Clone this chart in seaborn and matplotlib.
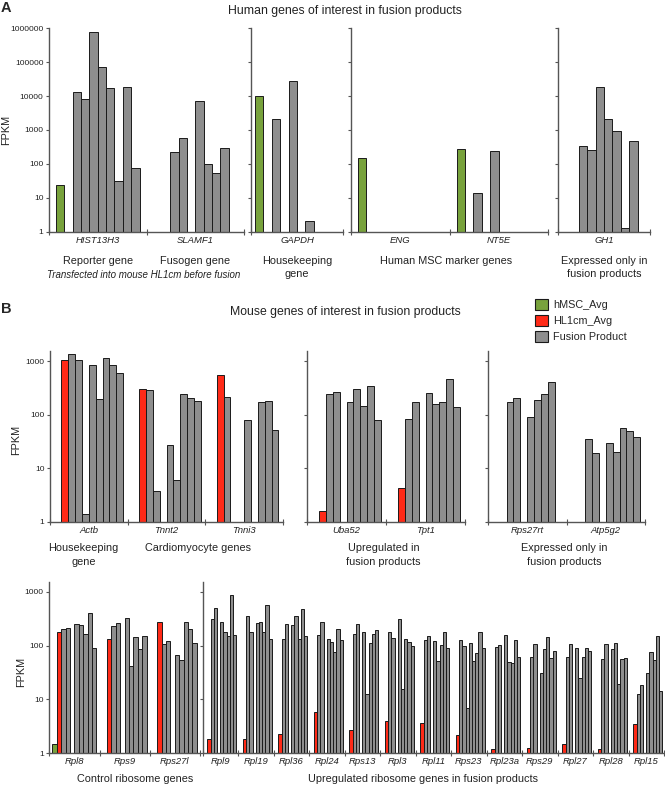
import numpy as np
import pandas as pd
import matplotlib
matplotlib.use("Agg")
import matplotlib.pyplot as plt
import seaborn as sns
from matplotlib.patches import Patch
from matplotlib.ticker import NullLocator

nan = np.nan

# sample order inside every gene group: hMSC, HL1cm, then 8 fusion products
samples = ["hMSC_Avg", "HL1cm_Avg", "F1", "F2", "F3", "F4", "F5", "F6", "F7", "F8"]

# panel A, human genes (FPKM)
hist13h3 = [24, nan, 13500, 8100, 760000, 72000, 17400, 31, 18200, 77]
slamf1 = [nan, nan, 230, 570, nan, 7300, 97, 53, 300, nan]
gapdh = [10200, nan, 2100, nan, 28000, nan, 2.1, nan, nan, nan]
eng = [152, nan, nan, nan, nan, nan, nan, nan, nan, nan]
nt5e = [280, nan, 14, nan, 245, nan, nan, nan, nan, nan]
gh1 = [nan, nan, 345, 263, 18200, 2100, 950, 1.26, 480, nan]

# panel B, mouse genes
actb = [nan, 1040, 1360, 1070, 1.37, 850, 195, 1130, 850, 610]
tnnt2 = [nan, 300, 295, 3.75, nan, 27, 5.9, 240, 205, 178]
tnni3 = [nan, 545, 215, nan, nan, 79, nan, 170, 180, 52]
uba52 = [nan, 1.6, 245, 265, nan, 173, 300, 148, 350, 80]
tpt1 = [nan, 4.3, 84, 173, nan, 258, 156, 170, 465, 141]
rps27rt = [nan, nan, 173, 203, nan, 92, 188, 247, 408, nan]
atp5g2 = [nan, nan, 35, 19, nan, 30, 20, 56, 49, 38]

# panel B, ribosome genes
rpl8 = [1.45, 176, 203, 215, nan, 255, 240, 162, 405, 89]
rps9 = [nan, 134, 235, 265, nan, 333, 42.5, 145, 86, 152]
rps27l = [nan, 270, 108, 120, nan, 68, 53, 275, 205, 111]
rpl9 = [nan, 1.8, 310, 500, nan, 270, 183, 152, 860, 158]
rpl19 = [nan, 1.85, 360, 183, nan, 268, 280, 183, 560, 135]
rpl36 = [nan, 2.26, 135, 251, nan, 243, 360, 135, 490, 152]
rpl24 = [nan, 5.8, 158, 280, nan, 134, 116, 76, 203, 129]
rps13 = [nan, 2.7, 162, 251, nan, 176, 12.4, 110, 166, 197]
rpl3 = [nan, 4.0, 183, 141, nan, 320, 15.6, 135, 116, 99]
rpl11 = [nan, 3.7, 128, 152, nan, 123, 51, 102, 183, 92]
rps23 = [nan, 2.2, 126, 99, 7.0, 114, 51, 72, 176, 89]
rpl23a = [nan, 1.19, 94, 102, nan, 155, 49, 47, 127, 62]
rps29 = [nan, 1.22, 61, 108, nan, 31.5, 86, 146, 60, 81]
rpl27 = [nan, 1.5, 62, 108, nan, 89, 25, 62, 89, 80]
rpl28 = [nan, 1.19, 57, 106, nan, 87, 110, 19, 57, 58]
rpl15 = [nan, 3.4, 12.6, 18.6, nan, 31.6, 76, 53, 152, 14.4]

green, red, grey = "#78a23c", "#ff2a17", "#8e8e8e"
edge = "#1a1a1a"
spine = "#555555"
palette = {s: grey for s in samples}
palette["hMSC_Avg"] = green
palette["HL1cm_Avg"] = red

sns.set_style("ticks")
plt.rcParams["font.family"] = ["Liberation Sans", "DejaVu Sans"]

W, H = 665, 785
fig = plt.figure(figsize=(W / 100, H / 100), dpi=100)


def add_axes(x0, x1, y0, y1):
    return fig.add_axes([x0 / W, 1 - y1 / H, (x1 - x0) / W, (y1 - y0) / H])


def panel(ax, genes, rows, top, decades, width, labels=True):
    df = pd.DataFrame({
        "gene": np.repeat(genes, len(samples)),
        "sample": samples * len(genes),
        "fpkm": np.concatenate(rows),
    }).dropna()
    sns.barplot(data=df, x="gene", y="fpkm", hue="sample", order=genes,
                hue_order=samples, palette=palette, saturation=1, width=width,
                edgecolor=edge, linewidth=0.7, errorbar=None, legend=False, ax=ax)
    ax.set_yscale("log")
    ax.set_ylim(1, top)
    ax.set_xlim(-0.5, len(genes) - 0.5)
    ax.set_xlabel("")
    ax.set_ylabel("")
    ax.set_yticks(decades)
    ax.set_yticklabels([str(int(d)) for d in decades] if labels else [])
    ax.yaxis.set_minor_locator(NullLocator())
    ax.set_xticks(range(len(genes)))
    ax.set_xticklabels(genes, style="italic", fontsize=6.8, color="#222222")
    ax.set_xticks(np.arange(len(genes) + 1) - 0.5, minor=True)
    ax.tick_params(axis="x", which="major", length=0, pad=3)
    ax.tick_params(axis="x", which="minor", length=4, direction="inout", width=0.8, color=spine)
    ax.tick_params(axis="y", length=2.5, width=0.8, color=spine, labelsize=6, pad=1.5,
                   labelcolor="#222222")
    for s in ["top", "right"]:
        ax.spines[s].set_visible(False)
    for s in ["left", "bottom"]:
        ax.spines[s].set_color(spine)
        ax.spines[s].set_linewidth(1)
    return ax


def note(ax, x, below, text, **kw):
    style = dict(ha="center", va="center", fontsize=7.8, color="#222222", linespacing=1.45)
    style.update(kw)
    ax.annotate(text, xy=(x, 0), xycoords=("data", "axes fraction"),
                xytext=(0, -below * 0.72), textcoords="offset points",
                annotation_clip=False, **style)


dec_a = [1, 10, 100, 1000, 10000, 100000, 1000000]
dec_b = [1, 10, 100, 1000]

# ---- panel A
a1 = panel(add_axes(49, 244, 28.3, 231.7), ["HIST13H3", "SLAMF1"], [hist13h3, slamf1], 1e6, dec_a, 0.857)
a2 = panel(add_axes(251, 343, 28.3, 231.7), ["GAPDH"], [gapdh], 1e6, dec_a, 0.913, False)
a3 = panel(add_axes(351, 548, 28.3, 231.7), ["ENG", "NT5E"], [eng, nt5e], 1e6, dec_a, 0.857, False)
a4 = panel(add_axes(558, 650, 28.3, 231.7), ["GH1"], [gh1], 1e6, dec_a, 0.913, False)

note(a1, 0, 29, "Reporter gene")
note(a1, 1, 29, "Fusogen gene")
note(a1, 0.47, 43.5, "Transfected into mouse HL1cm before fusion", style="italic", fontsize=7)
note(a2, 0, 36, "Housekeeping\ngene")
note(a3, 0.47, 29, "Human MSC marker genes")
note(a4, 0, 36, "Expressed only in\nfusion products")

# ---- panel B, top row
b1 = panel(add_axes(50, 283, 351.5, 521.7), ["Actb", "Tnnt2", "Tnni3"], [actb, tnnt2, tnni3], 1514, dec_b, 0.88)
b2 = panel(add_axes(307, 465, 351.5, 521.7), ["Uba52", "Tpt1"], [uba52, tpt1], 1514, dec_b, 0.88, False)
b3 = panel(add_axes(488, 645, 351.5, 521.7), ["Rps27rt", "Atp5g2"], [rps27rt, atp5g2], 1514, dec_b, 0.88, False)

note(b1, -0.07, 33.5, "Housekeeping\ngene")
note(b1, 1.41, 26.6, "Cardiomyocyte genes")
note(b2, 0.47, 33.5, "Upregulated in\nfusion products")
note(b3, 0.47, 33.5, "Expressed only in\nfusion products")

# ---- panel B, ribosome genes
ctrl = ["Rpl8", "Rps9", "Rps27l"]
up = ["Rpl9", "Rpl19", "Rpl36", "Rpl24", "Rps13", "Rpl3", "Rpl11", "Rps23",
      "Rpl23a", "Rps29", "Rpl27", "Rpl28", "Rpl15"]
c1 = panel(add_axes(49.3, 200, 582.3, 753), ctrl, [rpl8, rps9, rps27l], 1514, dec_b, 0.875)
c2 = panel(add_axes(202.5, 664, 582.3, 753), up,
           [rpl9, rpl19, rpl36, rpl24, rps13, rpl3, rpl11, rps23, rpl23a, rps29, rpl27, rpl28, rpl15],
           1514, dec_b, 0.9, False)
note(c1, 1.2, 26, "Control ribosome genes")
note(c2, 5.7, 26, "Upregulated ribosome genes in fusion products")

# ---- titles, axis labels, legend
fig.text(1 / W, 1 - 8 / H, "A", fontsize=10.5, fontweight="bold", va="center", ha="left")
fig.text(1 / W, 1 - 309 / H, "B", fontsize=10.5, fontweight="bold", va="center", ha="left")
fig.text(345 / W, 1 - 10.7 / H, "Human genes of interest in fusion products", fontsize=8.8,
         ha="center", va="center", color="#222222")
fig.text(345 / W, 1 - 311.7 / H, "Mouse genes of interest in fusion products", fontsize=8.8,
         ha="center", va="center", color="#222222")
for x, y in [(6, 130), (16, 440), (21.5, 672)]:
    fig.text(x / W, 1 - y / H, "FPKM", rotation=90, fontsize=7.8, ha="center", va="center",
             color="#222222")

handles = [Patch(facecolor=green, edgecolor=edge, linewidth=0.8, label="hMSC_Avg"),
           Patch(facecolor=red, edgecolor=edge, linewidth=0.8, label="HL1cm_Avg"),
           Patch(facecolor=grey, edgecolor=edge, linewidth=0.8, label="Fusion Product")]
fig.legend(handles=handles, loc="upper left", bbox_to_anchor=(535 / W, 1 - 299 / H),
           frameon=False, fontsize=7.8, handlelength=1.2, handleheight=1.2,
           handletextpad=0.5, labelspacing=0.45, borderaxespad=0, borderpad=0)

fig.savefig("out.png", dpi=100)
